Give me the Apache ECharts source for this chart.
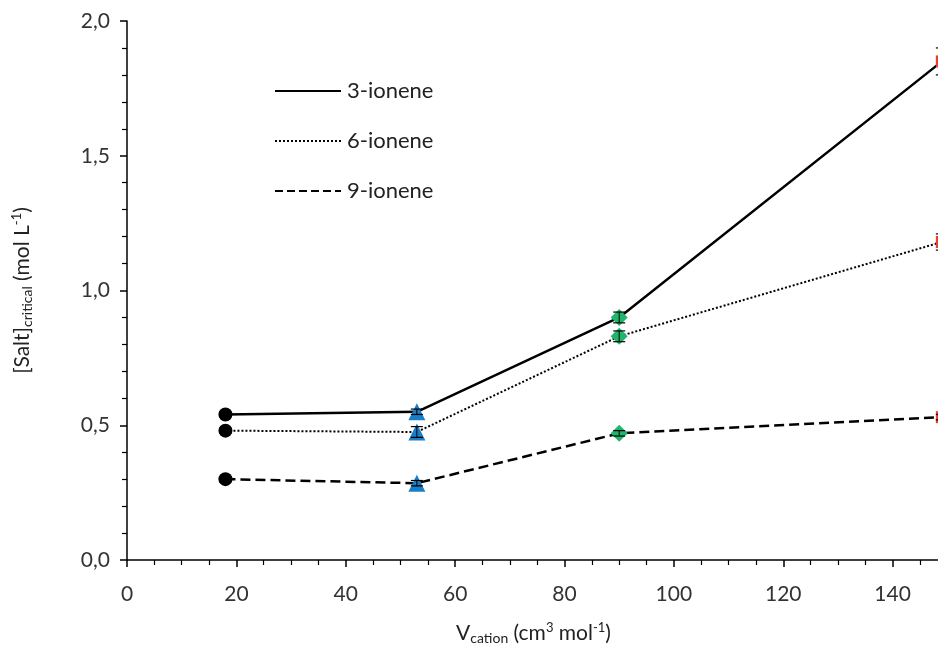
<!DOCTYPE html>
<html>
<head>
<meta charset="utf-8">
<script src="https://cdn.jsdelivr.net/npm/echarts@6/dist/echarts.min.js"></script>
<style>
html,body{margin:0;padding:0;background:#fff;}
#chart{width:938px;height:648px;}
</style>
</head>
<body>
<div id="chart"></div>
<script>
const xValues = [18, 53, 90, 149];
const seriesNames = ['3-ionene', '6-ionene', '9-ionene'];
const ionene3 = [0.54, 0.55, 0.90, 1.85];
const ionene6 = [0.48, 0.475, 0.83, 1.18];
const ionene9 = [0.30, 0.285, 0.47, 0.53];
const err3 = [0.01, 0.01, 0.02, 0.05];
const err6 = [0.01, 0.02, 0.02, 0.03];
const err9 = [0.01, 0.01, 0.01, 0.01];
const markerSymbols = ['circle', 'triangle', 'diamond', 'rect'];
const markerColors = ['#000000', '#1a7dc8', '#20b56c', '#e8402a'];
const markerSizes = [14, 17, 17, 12];
const lineTypes = ['solid', 'dotted', 'dashed'];

const values = [ionene3, ionene6, ionene9];
const errors = [err3, err6, err9];
const FONT = 'Lato';

const chart = echarts.init(document.getElementById('chart'));

const lineSeries = values.map((vals, i) => ({
  name: seriesNames[i],
  type: 'line',
  symbol: 'none',
  showSymbol: false,
  data: vals.map((v, j) => [xValues[j], v]),
  lineStyle: { color: '#000', width: i === 1 ? 2 : 2.5, type: lineTypes[i] },
  itemStyle: { color: '#000' },
  z: 2
}));

const errSeries = values.map((vals, i) => ({
  type: 'custom',
  silent: true,
  data: vals.map((v, j) => [xValues[j], v - errors[i][j], v + errors[i][j]]),
  renderItem: function (params, api) {
    const lo = api.coord([api.value(0), api.value(1)]);
    const hi = api.coord([api.value(0), api.value(2)]);
    const w = 6;
    return {
      type: 'group',
      children: [
        { type: 'line', shape: { x1: lo[0], y1: lo[1], x2: hi[0], y2: hi[1] }, style: { stroke: '#000', lineWidth: 1 } },
        { type: 'line', shape: { x1: lo[0] - w, y1: lo[1], x2: lo[0] + w, y2: lo[1] }, style: { stroke: '#000', lineWidth: 1.2 } },
        { type: 'line', shape: { x1: hi[0] - w, y1: hi[1], x2: hi[0] + w, y2: hi[1] }, style: { stroke: '#000', lineWidth: 1.2 } }
      ]
    };
  },
  z: 5
}));

const markerSeries = values.map((vals, i) => ({
  type: 'scatter',
  silent: true,
  data: vals.map((v, j) => ({
    value: [xValues[j], v],
    symbol: markerSymbols[j],
    symbolSize: markerSizes[j],
    itemStyle: { color: markerColors[j], opacity: 1 }
  })),
  z: 4
}));

const rich = {
  b: { fontSize: 21, fontFamily: FONT, color: '#222', lineHeight: 24 },
  sub: { fontSize: 14, fontFamily: FONT, color: '#222', verticalAlign: 'bottom', lineHeight: 13 },
  sup: { fontSize: 13, fontFamily: FONT, color: '#222', verticalAlign: 'top', lineHeight: 13 }
};

chart.setOption({
  animation: false,
  backgroundColor: '#fff',
  grid: { left: 127, width: 875, top: 21, bottom: 88, containLabel: false, outerBoundsMode: 'none' },
  legend: {
    data: seriesNames,
    orient: 'vertical',
    left: 274,
    top: 80,
    padding: 0,
    itemWidth: 66,
    itemHeight: 14,
    itemGap: 28,
    itemStyle: { opacity: 0 },
    textStyle: { fontSize: 22, fontFamily: FONT, color: '#222', padding: [0, 0, 0, 1] },
    selectedMode: false
  },
  xAxis: {
    type: 'value',
    min: 0,
    max: 160,
    interval: 20,
    name: '{b|V}{sub|cation}{b| (cm}{sup|3}{b| mol}{sup|-1}{b|)}',
    nameLocation: 'middle',
    nameGap: 61,
    nameTextStyle: { rich: rich, padding: [0, 62, 0, 0] },
    axisLine: { onZero: false, lineStyle: { color: '#000', width: 1.5 } },
    axisTick: { show: true, inside: false, length: 7, lineStyle: { color: '#000', width: 1.5 } },
    minorTick: { show: true, splitNumber: 4, length: 5, lineStyle: { color: '#000', width: 1.2 } },
    splitLine: { show: false },
    axisLabel: {
      fontSize: 21, fontFamily: FONT, color: '#333', margin: 24,
      formatter: v => (v > 140 ? '' : String(v))
    }
  },
  yAxis: {
    type: 'value',
    min: 0,
    max: 2,
    interval: 0.5,
    name: '{b|[Salt]}{sub|critical}{b| (mol L}{sup|-1}{b|)}',
    nameLocation: 'middle',
    nameGap: 93,
    nameRotate: 90,
    nameTextStyle: { rich: rich },
    axisLine: { onZero: false, lineStyle: { color: '#000', width: 1.5 } },
    axisTick: { show: true, inside: false, length: 7, lineStyle: { color: '#000', width: 1.5 } },
    minorTick: { show: true, splitNumber: 5, length: 5, lineStyle: { color: '#000', width: 1.2 } },
    splitLine: { show: false },
    axisLabel: {
      fontSize: 21, fontFamily: FONT, color: '#333', margin: 17,
      formatter: v => v.toFixed(1).replace('.', ',')
    }
  },
  series: [...lineSeries, ...errSeries, ...markerSeries]
});
</script>
</body>
</html>
